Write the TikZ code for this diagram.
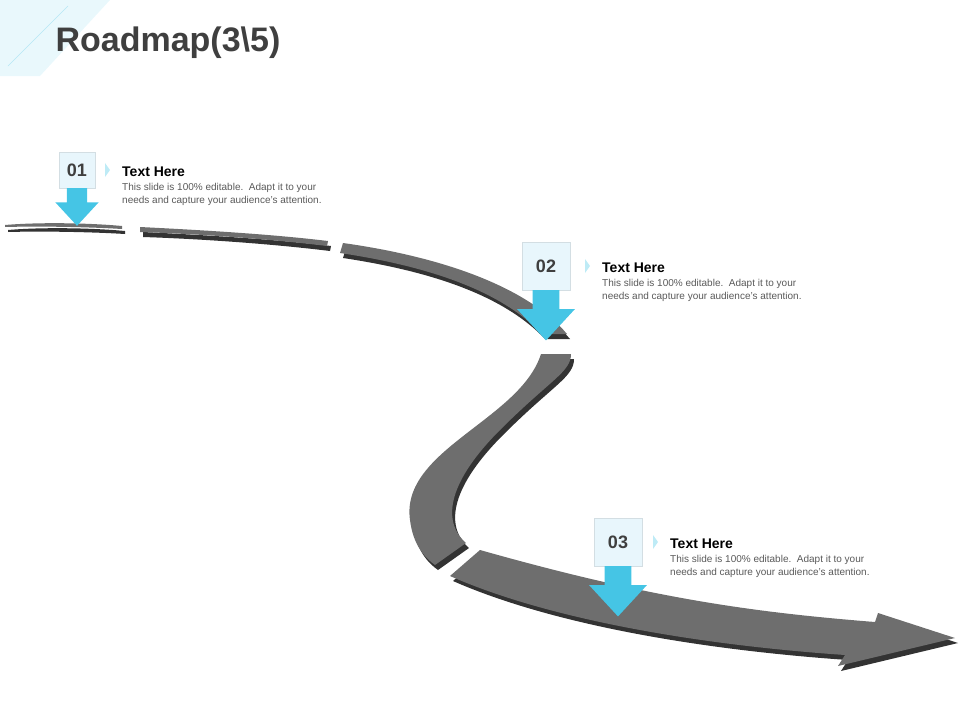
\documentclass[tikz,border=0pt]{standalone}
\usepackage{fontspec}
\setmainfont{Liberation Sans}
\usetikzlibrary{positioning}
\definecolor{roadgray}{HTML}{6E6E6E}
\definecolor{roadshade}{HTML}{333333}
\definecolor{markblue}{HTML}{45C5E5}
\definecolor{boxblue}{HTML}{E8F6FC}
\definecolor{titlegray}{HTML}{3F3F3F}
\tikzset{
  numbox/.style={fill=boxblue, draw=boxblue!80!gray, line width=0.4pt, inner sep=0pt, font=\bfseries\fontsize{18}{18}\selectfont, text=titlegray},
  headtext/.style={anchor=west, font=\bfseries\fontsize{14}{14}\selectfont, inner sep=0pt},
  bodytext/.style={anchor=north west, align=left, font=\fontsize{10}{13}\selectfont, text=black!65, inner sep=0pt},
  pointer/.style={fill=markblue!35}
}
\begin{document}
\begin{tikzpicture}[x=1pt, y=-1pt]
  \useasboundingbox (0,0) rectangle (960,720);
  % corner decoration
  \fill[markblue!12] (0,0) -- (110,0) -- (40,76) -- (0,76) -- cycle;
  \draw[markblue!40] (8,66) -- (68,6);
  \node[anchor=west, font=\bfseries\fontsize{34}{34}\selectfont, text=titlegray] (title) at (52,43) {Roadmap(3\textbackslash 5)};

  % road pieces, shadow first
  \foreach \dx/\dy/\col in {3/5/roadshade, 0/0/roadgray} {
    \begin{scope}[shift={(\dx,\dy)}]
      \fill[\col] (5,225) .. controls (40,222) and (90,223) .. (122,226) -- (122,229) .. controls (90,227) and (40,226) .. (5,227) -- cycle;
      \fill[\col] (140,227) .. controls (200,230) and (270,234) .. (328,241) -- (327,246) .. controls (270,239) and (200,234) .. (140,232) -- cycle;
      \fill[\col] (343,243) .. controls (450,258) and (530,290) .. (567,334) -- (542,334) .. controls (505,295) and (440,268) .. (340,253) -- cycle;
      \fill[\col] (541,354) .. controls (520,420) and (400,450) .. (410,520) .. controls (413,545) and (425,558) .. (435,565) -- (466,543) .. controls (440,520) and (450,480) .. (500,430) .. controls (550,380) and (571,372) .. (571,354) -- cycle;
      \fill[\col] (480,550) .. controls (650,598) and (750,612) .. (875,622) -- (878,613) -- (955,638) -- (838,666) -- (845,655) .. controls (700,645) and (550,620) .. (450,576) -- cycle;
    \end{scope}
  }

  % milestones
  \foreach \n/\x/\y/\w/\tx in {01/77/170/36/122, 02/546/266/48/602, 03/618/542/48/670} {
    \pgfmathsetmacro{\hw}{\w/2}
    \pgfmathsetmacro{\sw}{\w*0.28}
    \pgfmathsetmacro{\aw}{\w*0.6}
    \pgfmathsetmacro{\by}{\y+\hw}
    \pgfmathsetmacro{\my}{\y+\hw+0.4*\w}
    \pgfmathsetmacro{\ty}{\y+\hw+1.05*\w}
    \node[numbox, minimum width=\w pt, minimum height=\w pt] (box\n) at (\x,\y) {\n};
    \fill[markblue] (\x-\sw,\by) -- (\x+\sw,\by) -- (\x+\sw,\my) -- (\x+\aw,\my) -- (\x,\ty) -- (\x-\aw,\my) -- (\x-\sw,\my) -- cycle;
    \fill[pointer] (\tx-17,\y-7) -- (\tx-12,\y) -- (\tx-17,\y+7) -- cycle;
    \node[headtext] (head\n) at (\tx,\y+2) {Text Here};
    \node[bodytext] (body\n) at (\tx,\y+13) {This slide is 100\% editable.\ \ Adapt it to your\\needs and capture your audience's attention.};
  }
\end{tikzpicture}
\end{document}
